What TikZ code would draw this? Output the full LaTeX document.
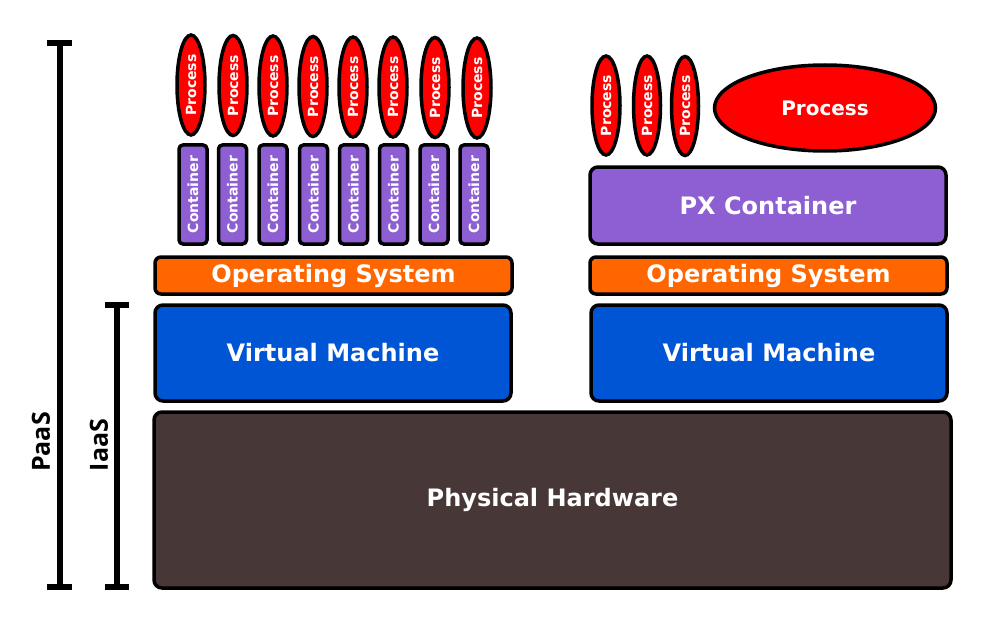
\documentclass[tikz,border=0pt]{standalone}
\usepackage{fontspec}
\setmainfont{DejaVu Sans}
\newfontfamily\labfont{Open Sans}
\usetikzlibrary{shapes.geometric}
\definecolor{procred}{HTML}{FF0000}
\definecolor{contpurple}{HTML}{8D5FD3}
\definecolor{osorange}{HTML}{FF6600}
\definecolor{vmblue}{HTML}{0055D4}
\definecolor{hwbrown}{HTML}{483737}
\tikzset{
  layerbox/.style={draw=black, line width=3.5pt, rounded corners=8pt, inner sep=0pt,
    text=white, font=\bfseries\fontsize{24}{28}\selectfont},
  contbox/.style={draw=black, line width=3.5pt, rounded corners=4pt, fill=contpurple, inner sep=0pt,
    minimum width=28pt, minimum height=99pt, text=white, font=\bfseries\fontsize{14}{16}\selectfont},
  procsmall/.style={ellipse, draw=black, line width=3.5pt, fill=procred, inner sep=0pt,
    minimum width=28pt, minimum height=100pt, text=white, font=\bfseries\fontsize{14}{16}\selectfont},
  procbig/.style={ellipse, draw=black, line width=3.5pt, fill=procred, inner sep=0pt,
    minimum width=221pt, minimum height=86pt, text=white, font=\bfseries\fontsize{20}{24}\selectfont},
  barline/.style={line width=6pt},
  barlabel/.style={rotate=90, font=\labfont\bfseries\fontsize{25}{28}\selectfont, inner sep=0pt}
}
\begin{document}
\begin{tikzpicture}[x=1pt,y=-1pt]
\useasboundingbox (0,0) rectangle (985,623);
% scale bars
\draw[barline] (59.5,43.5) -- (59.5,587);
\draw[barline] (47,43.5) -- (72,43.5);
\draw[barline] (47,587) -- (72,587);
\draw[barline] (117,304.5) -- (117,587);
\draw[barline] (105,304.5) -- (129,304.5);
\draw[barline] (105,587) -- (129,587);
\node[barlabel] (paas) at (41,442) {PaaS};
\node[barlabel] (iaas) at (99,445) {IaaS};
% hardware
\node[layerbox, fill=hwbrown, minimum width=797pt, minimum height=176pt] (hw) at (552.5,500) {Physical Hardware};
% VMs
\node[layerbox, fill=vmblue, minimum width=356pt, minimum height=96pt] (vml) at (333,353) {Virtual Machine};
\node[layerbox, fill=vmblue, minimum width=356pt, minimum height=96pt] (vmr) at (769,353) {Virtual Machine};
% OS
\node[layerbox, fill=osorange, rounded corners=6pt, minimum width=357pt, minimum height=37pt] (osl) at (333.5,275.5) {Operating System};
\node[layerbox, fill=osorange, rounded corners=6pt, minimum width=357pt, minimum height=37pt] (osr) at (768.5,275.5) {Operating System};
% PX container
\node[layerbox, fill=contpurple, minimum width=356pt, minimum height=77pt] (px) at (768,205.5) {PX Container};
% containers left
\foreach \i/\x in {1/193,2/232.5,3/273,4/313.5,5/353.5,6/393.5,7/434,8/474}{
  \node[contbox] (c\i) at (\x,194.5) {\rotatebox{90}{Container}};
}
% processes left
\foreach \i/\x/\y in {1/191/85,2/233/85.5,3/273/86,4/313/86.5,5/353/87,6/393/87,7/435/87.5,8/477/88}{
  \node[procsmall] (p\i) at (\x,\y) {\rotatebox{90}{Process}};
}
% processes right
\node[procsmall, minimum width=28pt, minimum height=99pt] (q1) at (606,105.5) {\rotatebox{90}{Process}};
\node[procsmall, minimum width=27pt, minimum height=99pt] (q2) at (647,105.5) {\rotatebox{90}{Process}};
\node[procsmall, minimum width=27pt, minimum height=99pt] (q3) at (685,106) {\rotatebox{90}{Process}};
\node[procbig] (qbig) at (825,108) {Process};
\end{tikzpicture}
\end{document}
